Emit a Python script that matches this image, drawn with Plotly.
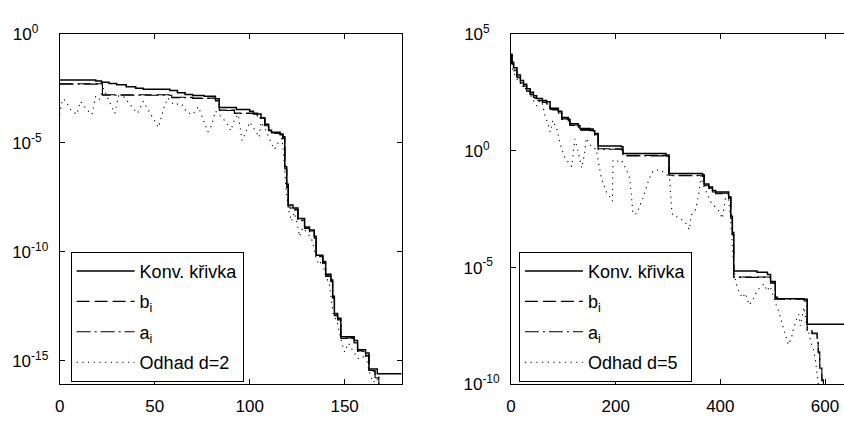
import numpy as np
import plotly.graph_objects as go

# ---------------- data (y given as log10 values) ----------------
# Left panel (Odhad d=2)
L_konv_x = [0, 19, 22, 26, 30, 35, 40, 44, 58, 62, 66, 70, 76, 82, 84, 93, 100, 102, 106, 108, 110, 111.5, 116,
            117.5, 118.5, 119.5, 120.3, 122.8, 125.4, 128.9, 131.5, 134, 135, 138.5, 140, 142.8, 143.7, 144.6,
            146.3, 148, 155, 156.8, 161, 162.8, 167.2, 180]
L_konv_log = [-2.12, -2.17, -2.22, -2.28, -2.34, -2.43, -2.5, -2.55, -2.6, -2.7, -2.78, -2.83, -2.86, -2.98, -3.38,
              -3.47, -3.55, -3.68, -3.86, -4.15, -4.43, -4.52, -4.6, -4.72, -6.1, -6.9, -7.85, -7.99, -8.48, -8.86,
              -9.0, -9.29, -10.16, -10.45, -11.03, -11.3, -12.04, -12.83, -13.05, -13.9, -14.07, -14.5, -14.65,
              -15.38, -15.6, -15.6]

L_b_x = [0, 21, 22.5, 58, 59, 70, 82, 84, 92, 104, 108, 110, 111.5, 116, 117.5, 118.5, 119.5, 120.3, 122.8, 125.4,
         128.9, 131.5, 134, 135, 138.5, 140, 142.8, 143.7, 144.6, 146.3, 148, 155, 156.8, 161, 162.8, 166, 168]
L_b_log = [-2.29, -2.29, -2.8, -2.8, -2.91, -2.95, -3.06, -3.5, -3.64, -3.85, -4.2, -4.45, -4.55, -4.62, -4.8,
           -6.2, -7.0, -7.95, -8.05, -8.55, -8.9, -9.05, -9.35, -10.2, -10.5, -11.1, -11.35, -12.1, -12.9, -13.1,
           -13.95, -14.15, -14.55, -14.75, -15.45, -15.75, -16.6]

L_a_x = [0, 21, 22.5, 57, 59, 70, 82, 84, 92, 104, 108, 110, 111.5, 116, 117.5, 118.5, 119.5, 120.3, 122.8, 125.4,
         128.9, 131.5, 134, 135, 138.5, 140, 142.8, 143.7, 144.6, 146.3, 148, 155, 156.8, 161, 162.8, 166, 168]
L_a_log = [-2.31, -2.31, -2.82, -2.82, -2.93, -2.97, -3.08, -3.52, -3.66, -3.87, -4.22, -4.47, -4.57, -4.64, -4.82,
           -6.25, -7.05, -8.0, -8.08, -8.58, -8.93, -9.08, -9.38, -10.23, -10.53, -11.13, -11.38, -12.13, -12.93,
           -13.13, -13.98, -14.18, -14.58, -14.78, -15.48, -15.78, -16.6]

L_est_x = [0, 1.5, 3, 6, 9, 11, 14, 17, 19, 21, 23, 26, 29, 31, 34, 38, 41, 44, 47, 50, 52, 55, 57, 60, 64, 67, 70,
           73, 76, 78, 80, 82, 85, 88, 90, 92, 94, 96, 98, 100, 103, 105, 106, 109, 111, 113, 115, 117, 118, 119,
           120.5, 122, 123.5, 125, 126.3, 128, 131, 133, 135, 136.5, 138, 140, 142, 144, 146, 148, 150, 152, 154,
           157, 159, 161, 163, 165, 167, 168]
L_est_log = [-3.7, -3.0, -3.06, -3.5, -3.7, -3.1, -3.45, -3.7, -2.85, -3.0, -2.5, -3.1, -3.65, -2.85, -2.9, -3.35,
             -3.65, -3.1, -3.55, -4.0, -4.3, -3.35, -2.95, -3.25, -3.2, -3.6, -3.7, -3.35, -4.0, -4.5, -4.2, -3.55,
             -3.8, -4.1, -4.45, -3.95, -3.7, -4.9, -4.5, -4.05, -4.45, -4.75, -4.05, -4.5, -4.95, -5.3, -5.0, -4.8,
             -5.6, -7.0, -8.1, -8.6, -8.2, -8.7, -9.3, -8.9, -9.2, -9.5, -10.3, -10.6, -10.4, -11.1, -11.5, -12.9,
             -13.2, -14.0, -14.6, -14.2, -14.5, -14.9, -14.9, -14.7, -15.5, -16.0, -15.8, -16.3]

# Right panel (Odhad d=5)
R_konv_x = [0, 1.9, 5, 11.4, 18, 24, 30, 36.7, 43, 49, 60, 68, 74.7, 90.5, 97, 109.5, 112.7, 128.5, 131.7, 150.7,
            157, 160, 166.5, 210.8, 214, 296, 302, 366, 369, 378, 385, 391, 416, 420, 423, 425.6, 470, 490, 496,
            505, 509, 560, 566, 640]
R_konv_log = [4.12, 3.78, 3.55, 3.24, 3.0, 2.84, 2.65, 2.5, 2.35, 2.23, 2.15, 2.09, 1.82, 1.69, 1.42, 1.35, 1.15,
              1.08, 0.95, 0.93, 0.85, 0.74, 0.2, 0.17, -0.12, -0.18, -0.98, -1.03, -1.43, -1.55, -1.7, -1.77,
              -1.97, -2.8, -3.5, -5.15, -5.2, -5.3, -5.6, -6.27, -6.33, -6.35, -7.42, -7.45]

R_b_x = [0, 1.9, 5, 11.4, 18, 24, 30, 36.7, 43, 49, 60, 68, 74.7, 90.5, 97, 109.5, 112.7, 128.5, 131.7, 150.7,
         157, 160, 166.5, 210.8, 214, 296, 302, 366, 369, 378, 385, 391, 416, 420, 423, 425.6, 496, 505, 560, 566,
         575, 585, 587, 590, 594, 597]
R_b_log = [4.1, 3.72, 3.45, 3.15, 2.9, 2.76, 2.58, 2.42, 2.28, 2.16, 2.08, 2.02, 1.76, 1.63, 1.36, 1.29, 1.1, 1.03,
           0.9, 0.88, 0.8, 0.68, 0.08, 0.05, -0.2, -0.24, -1.05, -1.08, -1.48, -1.6, -1.75, -1.82, -2.02, -2.9,
           -3.6, -5.4, -5.65, -6.32, -6.4, -7.65, -7.8, -8.0, -8.6, -9.3, -9.8, -10.5]

R_a_x = R_b_x
R_a_log = [4.08, 3.7, 3.42, 3.12, 2.88, 2.73, 2.55, 2.4, 2.25, 2.14, 2.06, 2.0, 1.74, 1.61, 1.34, 1.27, 1.08, 1.01,
           0.88, 0.86, 0.78, 0.66, 0.06, 0.03, -0.22, -0.26, -1.07, -1.1, -1.5, -1.62, -1.77, -1.84, -2.04, -2.92,
           -3.62, -5.42, -5.67, -6.35, -6.43, -7.68, -7.83, -8.03, -8.65, -9.35, -9.85, -10.5]

R_est_x = [0, 3, 6, 11, 15, 20, 25, 30, 35, 40, 45, 50, 55, 60, 65, 70, 75, 80, 85, 88, 93, 97, 103, 110, 116, 122,
           128, 135, 140, 144, 150, 157, 163, 168, 173, 178, 182, 188, 193.7, 195, 205, 211, 218, 226, 230, 233,
           240, 246, 252, 258, 264, 271, 278, 284, 290, 297, 303, 305, 307, 309, 315, 322, 328, 334, 341, 344, 349,
           353, 358.5, 363, 366, 370, 376, 382, 390, 398, 404, 410, 416, 420, 424, 429, 435, 442, 448, 455, 462,
           470, 478, 484, 489, 495, 505, 512, 518, 524, 530, 536, 540, 546, 550, 553, 560, 566, 569, 573, 578, 582,
           588]
R_est_log = [4.0, 3.5, 3.3, 3.1, 2.9, 2.95, 2.6, 2.7, 2.4, 2.3, 2.05, 1.9, 2.15, 2.0, 1.5, 1.2, 0.8, 1.3, 1.0, 0.9,
             0.4, 0.07, -0.3, -0.5, -0.68, 0.5, 0.0, -0.74, -0.2, 0.54, 0.3, 0.1, 0.07, -0.6, -1.2, -1.5, -1.76,
             -1.95, -2.16, -0.4, -0.45, -0.4, -0.7, -1.08, -1.9, -2.7, -2.7, -2.4, -2.03, -1.62, -1.2, -0.88, -0.85,
             -0.81, -0.9, -1.0, -1.2, -2.0, -2.5, -2.77, -2.8, -2.9, -2.97, -3.1, -3.38, -2.77, -2.6, -2.5, -1.9,
             -1.08, -1.4, -1.6, -1.9, -2.2, -2.4, -2.6, -2.9, -2.0, -2.1, -3.0, -4.5, -5.6, -6.0, -6.3, -6.1, -6.6,
             -6.4, -6.0, -5.8, -5.7, -6.0, -5.8, -6.5, -6.9, -7.4, -7.8, -8.3, -8.0, -7.6, -7.2, -7.0, -7.5, -6.7,
             -7.6, -7.8, -8.2, -8.5, -9.0, -10.2]

names_left = ["Konv. křivka", "b<sub>i</sub>", "a<sub>i</sub>", "Odhad d=2"]
names_right = ["Konv. křivka", "b<sub>i</sub>", "a<sub>i</sub>", "Odhad d=5"]

L_xticks = [0, 50, 100, 150]
R_xticks = [0, 200, 400, 600]
L_yexp = [0, -5, -10, -15]
R_yexp = [5, 0, -5, -10]

# ---------------- figure ----------------
FONT = "Liberation Sans, Arial, sans-serif"
W, H = 844, 421

styles = [
    dict(dash="solid", width=1.5, shape="hv"),
    dict(dash="13px,5px", width=1.1, shape="hv"),
    dict(dash="14px,4px,2px,4px", width=1.1, shape="hv"),
    dict(dash="1.2px,4.5px", width=1.1, shape="linear"),
]

fig = go.Figure()

left_sets = [(L_konv_x, L_konv_log), (L_b_x, L_b_log), (L_a_x, L_a_log), (L_est_x, L_est_log)]
right_sets = [(R_konv_x, R_konv_log), (R_b_x, R_b_log), (R_a_x, R_a_log), (R_est_x, R_est_log)]

for i, ((xs, ls), nm, st) in enumerate(zip(left_sets, names_left, styles)):
    fig.add_trace(go.Scatter(
        x=xs, y=np.power(10.0, np.array(ls)), mode="lines", name=nm,
        line=dict(color="black", width=st["width"], dash=st["dash"], shape=st["shape"]),
        xaxis="x", yaxis="y", legend="legend", legendgroup=f"L{i}", cliponaxis=True))

for i, ((xs, ls), nm, st) in enumerate(zip(right_sets, names_right, styles)):
    fig.add_trace(go.Scatter(
        x=xs, y=np.power(10.0, np.array(ls)), mode="lines", name=nm,
        line=dict(color="black", width=st["width"], dash=st["dash"], shape=st["shape"]),
        xaxis="x2", yaxis="y2", legend="legend2", legendgroup=f"R{i}", cliponaxis=True))


def pad(e):
    s = str(e)
    n = {1: 3, 2: 2}.get(len(s), 0)
    return "10<sup>" + s + "\u00a0" * n + "</sup>"


ydom = [(H - 393) / H, (H - 23) / H]
axis_common = dict(showline=True, linecolor="black", linewidth=1, ticks="inside", ticklen=5,
                   tickcolor="black", showgrid=False, zeroline=False,
                   tickfont=dict(family=FONT, size=17, color="black"))

legend_common = dict(xanchor="left", yanchor="top", bgcolor="white", bordercolor="black", borderwidth=1,
                     font=dict(family=FONT, size=18, color="black"), tracegroupgap=4,
                     traceorder="grouped", itemwidth=58)

fig.update_layout(
    width=W, height=H, margin=dict(l=0, r=0, t=0, b=0),
    paper_bgcolor="white", plot_bgcolor="white", showlegend=True,
    font=dict(family=FONT, size=17, color="black"),
    xaxis=dict(domain=[55 / W, 399 / W], range=[0, 180], tickvals=L_xticks, mirror="ticks",
               anchor="y", ticklabelstandoff=6, **axis_common),
    yaxis=dict(domain=ydom, type="log", range=[-16.09, 0], tickvals=[10.0 ** e for e in L_yexp],
               ticktext=[pad(e) for e in L_yexp], mirror="ticks", anchor="x", ticklabelstandoff=7,
               **axis_common),
    xaxis2=dict(domain=[509 / W, 1.0], range=[0, 636.3], tickvals=R_xticks, mirror="ticks",
                anchor="y2", ticklabelstandoff=6, **axis_common),
    yaxis2=dict(domain=ydom, type="log", range=[-10, 5], tickvals=[10.0 ** e for e in R_yexp],
                ticktext=[pad(e) for e in R_yexp], mirror=False, anchor="x2", ticklabelstandoff=7,
                **axis_common),
    legend=dict(x=66 / W, y=(H - 253) / H, **legend_common),
    legend2=dict(x=517 / W, y=(H - 253) / H, **legend_common),
)

fig.write_html("out.html")
